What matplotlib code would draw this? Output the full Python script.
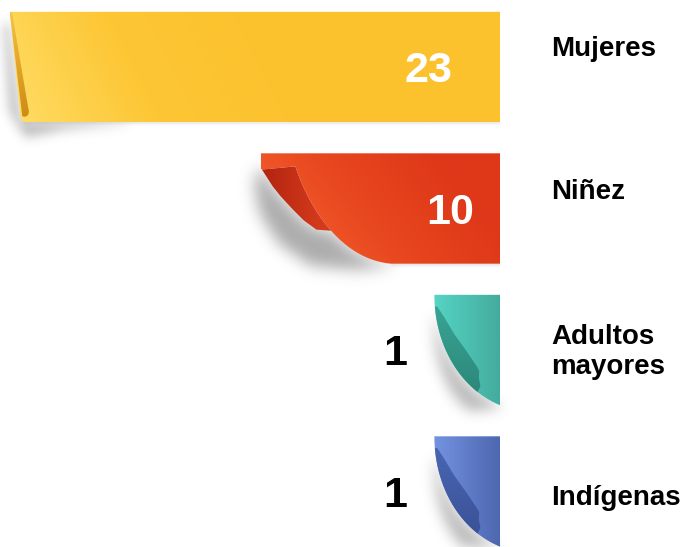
import numpy as np
import matplotlib
matplotlib.use("Agg")
import matplotlib.pyplot as plt
from matplotlib.path import Path
from matplotlib.patches import Polygon
from matplotlib.colors import to_rgb

# ---------------- data ----------------
categories = ["Mujeres", "Niñez", "Adultos\nmayores", "Indígenas"]
values = [23, 10, 1, 1]
value_labels = ["23", "10", "1", "1"]

# ---------------- style ----------------
sheet_stops = [["#FFDD66", "#FDC634", "#FCC22E"],
               ["#F5612F", "#E8471F", "#DE3819"],
               ["#55D4C4", "#44AC9E"],
               ["#7393E0", "#4E67B1"]]
flap_stops = [["#F3C34C", "#E2A428", "#CB8A14"],
              ["#B2230F", "#D43B1C"],
              ["#3BA898", "#2A8476"],
              ["#4B68B6", "#384F94"]]
curl_kind = ["edge", "corner", "narrow", "narrow"]
value_inside = [True, True, False, False]
value_inset_px = [48, 26, 27, 27]
label_baseline_px = [[-11], [-9], [-6, 24], [14]]
TAB_PAD = 2.4            # fixed width of the curled tab (value units)
BAR_H = 0.78

FIG_W, FIG_H, DPI = 689, 547, 100
PX = 19.3                # pixels per value unit
ROW_PX = 141.5           # pixels per row
BAR_RIGHT_PX = 500
FIRST_ROW_PX = 67
FONT = "Liberation Sans"

fig = plt.figure(figsize=(FIG_W / DPI, FIG_H / DPI), dpi=DPI)
fig.patch.set_facecolor("white")
bg = fig.add_axes([0, 0, 1, 1], zorder=0)
bg.set_xlim(0, FIG_W); bg.set_ylim(0, FIG_H); bg.axis("off")
ax = fig.add_axes([0, 0, 1, 1], zorder=1)
ax.axis("off")
ax.set_autoscale_on(False)
ax.set_xlim(-BAR_RIGHT_PX / PX, (FIG_W - BAR_RIGHT_PX) / PX)
ax.set_ylim((FIG_H - FIRST_ROW_PX) / ROW_PX, -FIRST_ROW_PX / ROW_PX)

n = len(values)
widths = [v + TAB_PAD for v in values]
bars = ax.barh(np.arange(n), widths, left=[-w for w in widths], height=BAR_H,
               color="none", edgecolor="none")


def bez(p0, c1, c2, p3, t0=0.0, t1=1.0, k=40):
    t = np.linspace(t0, t1, k)[:, None]
    p0, c1, c2, p3 = map(np.asarray, (p0, c1, c2, p3))
    return (1 - t) ** 3 * p0 + 3 * (1 - t) ** 2 * t * c1 + 3 * (1 - t) * t ** 2 * c2 + t ** 3 * p3


def gauss_blur(a, sigma):
    r = int(3 * sigma) + 1
    x = np.arange(-r, r + 1)
    k = np.exp(-x ** 2 / (2 * sigma ** 2)); k /= k.sum()
    a = np.apply_along_axis(lambda m: np.convolve(m, k, mode="same"), 0, a)
    a = np.apply_along_axis(lambda m: np.convolve(m, k, mode="same"), 1, a)
    return a


def shapes(kind, W, H):
    """Local pixel geometry (u to the right, v downward) of a curled tab."""
    if kind == "edge":
        sheet = np.vstack([[[0, 0], [W, 0], [W, H], [17, H]],
                           bez((17, H), (13, H), (11, H - 3), (10.7, H - 6), k=12)[1:],
                           [[0, 0]]])
        flap = np.vstack([[[0, 0], [2.3, 1], [18.5, H - 14]],
                          bez((18.5, H - 14), (20.5, H - 8), (17, H - 4), (12.5, H - 6), k=12)[1:],
                          [[0, 0]]])
        shadows = [
            (np.array([[-1, 10], [10.7, H - 6], [16, H], [120, H], [120, H + 1],
                       [55, H + 7], [16, H + 15], [0, H - 10], [-6, 14]]), 5.5, 0.42),
            (np.array([[14, H - 1], [W, H - 1], [W, H + 2], [14, H + 2]]), 1.2, 0.15),
        ]
        sheet_t = lambda U, V: (U + 0.5 * (H - V)) / 300
        flap_t = lambda U, V: V / H
    elif kind == "corner":
        P0, C1, C2, P3 = (34.7, 13), (45, 45), (75, 105), (130, H)
        curve_back = bez(P0, C1, C2, P3)[::-1]
        sheet = np.vstack([[[0, 0], [W, 0], [W, H]], curve_back, [[1.3, 16.3], [0, 15]]])
        edge_in = np.array([[70.5, 77], [55.7, 76.3], [43, 67], [32, 56], [20, 43], [12, 33], [1.3, 16.3]])
        flap = np.vstack([[[1.3, 16.3]], bez(P0, C1, C2, P3, 0, 0.55, 25), edge_in[1:]])
        outer = np.array([[130, H + 3], [95, H + 6], [50, H + 2], [18, 90], [0, 62], [-6, 36], [-4, 16]])
        shade = np.vstack([edge_in[::-1], bez(P0, C1, C2, P3, 0.55, 1.0, 25), outer])
        shadows = [
            (shade, 7.5, 0.5),
            (np.array([[130, H - 1], [W, H - 1], [W, H + 2], [130, H + 2]]), 1.2, 0.15),
        ]
        sheet_t = lambda U, V: ((U - 30) + 0.8 * (H - V)) / (W * 0.95)
        flap_t = lambda U, V: U / 60
    else:  # narrow
        s = H / 112.0
        P0, C1, C2, P3 = (0, 0), (0, 50 * s), (25, 95 * s), (W, H)
        sheet = np.vstack([[[0, 0], [W, 0], [W, H]], bez(P0, C1, C2, P3)[::-1]])
        outer_seg = bez(P0, C1, C2, P3, 0.08, 0.8, 30)
        inner = np.array([[46, 93], [44.5, 84], [44.8, 77], [42, 72], [32, 57],
                          [20, 40], [10, 23], [3, 12]]) * np.array([1, s])
        flap = np.vstack([outer_seg, inner])
        tt = np.linspace(0.15, 1.0, 30)
        curve = bez(P0, C1, C2, P3, 0.15, 1.0, 30)
        off = curve + np.column_stack([-30 * tt ** 1.3, 6 * tt])
        shade = np.vstack([curve, [[W, H + 3]], off[::-1]])
        shadows = [(shade, 6.5, 0.42)]
        sheet_t = lambda U, V: U / W
        flap_t = lambda U, V: V / H
    return sheet, flap, shadows, sheet_t, flap_t


def fill_gradient(pts_data, stops, T, extent, zorder):
    patch = Polygon(pts_data, closed=True, facecolor="none", edgecolor="none")
    ax.add_patch(patch)
    cols = np.array([to_rgb(c) for c in stops])
    pos = np.linspace(0, 1, len(stops))
    T = np.clip(T, 0, 1)
    img = np.stack([np.interp(T, pos, cols[:, k]) for k in range(3)], axis=-1)
    im = ax.imshow(img, extent=extent, origin="upper", aspect="auto",
                   interpolation="bilinear", zorder=zorder)
    im.set_clip_path(patch)


# grid for shadows (display pixel centers)
GX, GY = np.meshgrid(np.arange(FIG_W) + 0.5, np.arange(FIG_H) + 0.5)
grid = np.column_stack([GX.ravel(), GY.ravel()])
shadow_alpha = np.zeros((FIG_H, FIG_W))

for i, rect in enumerate(bars):
    x0, w, yt, h = rect.get_x(), rect.get_width(), rect.get_y(), rect.get_height()
    W, H = w * PX, h * ROW_PX

    def to_data(p, x0=x0, yt=yt):
        p = np.asarray(p, float)
        return np.column_stack([x0 + p[:, 0] / PX, yt + p[:, 1] / ROW_PX])

    sheet, flap, shadows, sheet_t, flap_t = shapes(curl_kind[i], W, H)

    for pts, sigma, a in shadows:
        disp = ax.transData.transform(to_data(pts))
        mask = Path(disp).contains_points(grid).reshape(FIG_H, FIG_W).astype(float)
        shadow_alpha = 1 - (1 - shadow_alpha) * (1 - gauss_blur(mask, sigma) * a)

    nu, nv = max(int(W), 2), max(int(H), 2)
    U, V = np.meshgrid(np.linspace(0, W, nu), np.linspace(0, H, nv))
    extent = (x0, x0 + w, yt + h, yt)
    fill_gradient(to_data(sheet), sheet_stops[i], sheet_t(U, V), extent, 3)
    fill_gradient(to_data(flap), flap_stops[i], flap_t(U, V), extent, 4)

    # value label
    fs_val = 31
    yc = rect.get_y() + h / 2
    dy = -0.70 * fs_val / 2
    if value_inside[i]:
        ax.annotate(value_labels[i], xy=(x0 + w, yc), xytext=(-value_inset_px[i] * 0.72, dy),
                    textcoords="offset points", ha="right", va="baseline", color="white",
                    fontsize=fs_val, fontweight="bold", family=FONT, zorder=6)
    else:
        ax.annotate(value_labels[i], xy=(x0, yc), xytext=(-value_inset_px[i] * 0.72, dy),
                    textcoords="offset points", ha="right", va="baseline", color="black",
                    fontsize=fs_val, fontweight="bold", family=FONT, zorder=6)

    # category label
    for line, off in zip(categories[i].split("\n"), label_baseline_px[i]):
        ax.annotate(line, xy=(x0 + w, yc), xytext=(51 * 0.72, -off * 0.72),
                    textcoords="offset points", ha="left", va="baseline", color="black",
                    fontsize=20, fontweight="bold", family=FONT, zorder=6)

rgba = np.zeros((FIG_H, FIG_W, 4))
rgba[..., :3] = 0.35
rgba[..., 3] = np.clip(shadow_alpha, 0, 1)
bg.imshow(rgba, extent=(0, FIG_W, 0, FIG_H), origin="lower", interpolation="bilinear", aspect="auto")
bg.set_xlim(0, FIG_W); bg.set_ylim(0, FIG_H)

fig.savefig("out.png", dpi=DPI, facecolor="white")
